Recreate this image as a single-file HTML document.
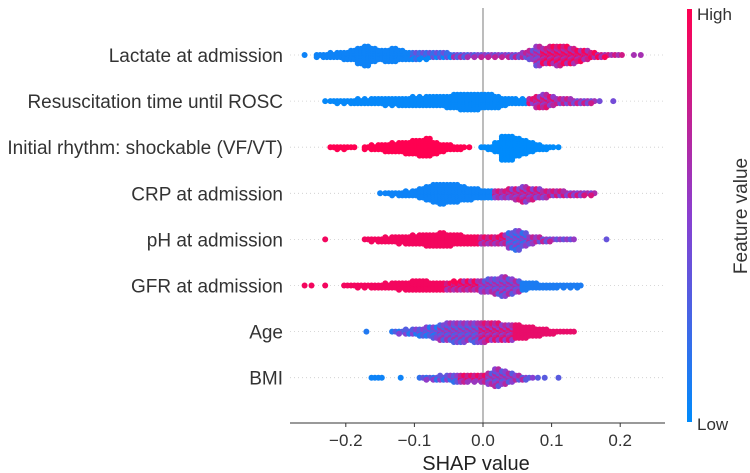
<!DOCTYPE html>
<html><head><meta charset="utf-8"><style>
body{margin:0;background:#fff;}
svg{display:block;font-family:"Liberation Sans",Arial,sans-serif;}
</style></head><body>
<svg id="chart" width="750" height="473" viewBox="0 0 750 473">
<defs><linearGradient id="cb" x1="0" y1="1" x2="0" y2="0">
<stop offset="0" stop-color="#008bfb"/><stop offset="0.5" stop-color="#8a3fd0"/><stop offset="1" stop-color="#ff0051"/></linearGradient></defs>
<g id="grid"></g>
<line x1="483" y1="8" x2="483" y2="423" stroke="#999" stroke-width="1.3"/>
<g id="dots"></g>
<g id="labels"></g>
<line x1="290" y1="423" x2="665" y2="423" stroke="#333" stroke-width="1"/>
<g id="ticks"></g>
<text x="476" y="470" font-size="20" fill="#222" text-anchor="middle">SHAP value</text>
<rect x="687" y="9" width="5" height="413" fill="url(#cb)"/>
<text x="697" y="20" font-size="17" fill="#333">High</text>
<text x="697" y="430" font-size="17" fill="#333">Low</text>
<text x="0" y="0" font-size="19" fill="#333" text-anchor="middle" transform="translate(747,216) rotate(-90)">Feature value</text>
</svg>
<script>
const features = ["Lactate at admission","Resuscitation time until ROSC","Initial rhythm: shockable (VF/VT)","CRP at admission","pH at admission","GFR at admission","Age","BMI"];
const binStarts = [-0.26,-0.23,-0.22,-0.15,-0.23,-0.26,-0.17,-0.16];
const lactateCounts = [1,0,3,4,5,6,8,10,16,20,14,10,12,14,10,8,8,7,7,6,6,5,4,4,3,3,3,3,3,3,4,4,6,10,20,16,18,20,18,16,12,10,6,4,3,2,2,0,1,1];
const resusCounts = [1,2,3,3,4,5,5,6,6,7,7,8,8,9,9,10,10,10,12,14,16,16,16,14,14,12,8,6,5,5,6,12,14,10,6,6,5,4,4,3,1,0,1];
const rhythmCounts = [2,3,3,2,0,3,5,6,8,9,10,12,14,16,18,12,8,6,4,3,1,0,2,4,10,24,24,18,14,10,6,4,2,1];
const crpCounts = [1,2,3,4,5,6,10,14,18,20,18,18,14,12,10,8,8,8,8,10,12,16,12,10,8,6,6,5,4,4,3,3];
const phCounts = [1,0,0,0,0,0,2,3,4,5,6,7,8,9,10,12,12,14,12,10,9,8,8,8,8,8,10,16,20,14,8,6,4,3,2,2,2,0,0,0,0,1];
const gfrCounts = [1,1,0,1,0,0,2,2,3,3,4,4,5,6,7,8,10,10,9,8,8,8,9,10,10,10,12,14,16,20,16,12,8,6,5,4,4,3,3,3,3];
const ageCounts = [1,0,0,0,2,3,5,6,8,10,12,16,18,20,20,18,20,20,18,18,16,16,14,12,10,8,6,4,2,2,2];
const bmiCounts = [2,2,0,0,1,0,0,2,3,4,5,6,8,8,7,7,8,12,18,14,10,6,4,2,1,1,0,1];
const allCounts = [lactateCounts,resusCounts,rhythmCounts,crpCounts,phCounts,gfrCounts,ageCounts,bmiCounts];
const colorBreaks = [[-0.1,-0.04,0.0,0.09],[0.07,0.11],[0.0],[0.02],[0.0,0.04,0.07],[-0.05,0.0,0.06],[-0.06,0.0,0.05],[-0.1,-0.03,0.01]];
const colorValues = [[0.05,0.2,0.45,0.55,0.8],[0.02,0.7,0.6],[1,0],[0.05,0.65],[0.95,0.75,0.35,0.55],[0.95,0.8,0.5,0.1],[0.3,0.45,0.7,0.9],[0.05,0.35,0.75,0.5]];
const tickValues = [-0.2,-0.1,0.0,0.1,0.2];
const tickLabels = ["\u22120.2","\u22120.1","0.0","0.1","0.2"];

const X = v => 483 + v*686;
const Y = i => 55 + i*46.1;
const NS = "http://www.w3.org/2000/svg";
function cmap(t){
  t=Math.max(0,Math.min(1,t));
  const a=[0,139,251], m=[138,63,208], b=[255,0,81];
  let c;
  if(t<0.5){const u=t/0.5;c=a.map((x,k)=>x+(m[k]-x)*u);}else{const u=(t-0.5)/0.5;c=m.map((x,k)=>x+(b[k]-x)*u);}
  return "rgb("+c.map(Math.round).join(",")+")";
}
function colorAt(fi,x){
  const br=colorBreaks[fi]; let k=0;
  while(k<br.length && x>=br[k]-1e-9) k++;
  return colorValues[fi][k];
}
const grid=document.getElementById('grid'), dots=document.getElementById('dots'), labels=document.getElementById('labels'), ticks=document.getElementById('ticks');
features.forEach((f,fi)=>{
  const y=Y(fi);
  const gl=document.createElementNS(NS,'line');
  gl.setAttribute('x1',290);gl.setAttribute('x2',665);gl.setAttribute('y1',y);gl.setAttribute('y2',y);
  gl.setAttribute('stroke','#ccc');gl.setAttribute('stroke-dasharray','1,3');gl.setAttribute('stroke-width','0.8');
  
  
  grid.appendChild(gl);
  const t=document.createElementNS(NS,'text');
  t.setAttribute('x',283);t.setAttribute('y',y+7);t.setAttribute('text-anchor','end');t.setAttribute('font-size','19');t.setAttribute('fill','#333');
  t.textContent=f;
  
  
  labels.appendChild(t);
  const counts=allCounts[fi];
  counts.forEach((n,bi)=>{
    const xv=binStarts[fi]+bi*0.01;
    const base=colorAt(fi,xv);
    const mixed = base>0.12 && base<0.88;
    for(let j=0;j<n;j++){
      const c=j%2, r=Math.floor(j/2);
      const off=(r===0?0:(r%2?1:-1)*Math.ceil(r/2))*2.1;
      const cx=X(xv)+(c?1.7:-1.7)*(n>1?1:0);
      const shift = mixed ? ((j%3)-1)*0.18 : 0;
      const d=document.createElementNS(NS,'circle');
      d.setAttribute('cx',cx.toFixed(1));d.setAttribute('cy',(y+off).toFixed(1));d.setAttribute('r',3);d.setAttribute('fill',cmap(base+shift));
      
      
      dots.appendChild(d);
    }
  });
});
tickValues.forEach((v,i)=>{
  const l=document.createElementNS(NS,'line');
  l.setAttribute('x1',X(v));l.setAttribute('x2',X(v));l.setAttribute('y1',423);l.setAttribute('y2',427);l.setAttribute('stroke','#333');
  
  
  ticks.appendChild(l);
  const t=document.createElementNS(NS,'text');
  t.setAttribute('x',X(v));t.setAttribute('y',446);t.setAttribute('text-anchor','middle');t.setAttribute('font-size','17');t.setAttribute('fill','#333');
  t.textContent=tickLabels[i];
  
  
  ticks.appendChild(t);
});
</script>
</body></html>
